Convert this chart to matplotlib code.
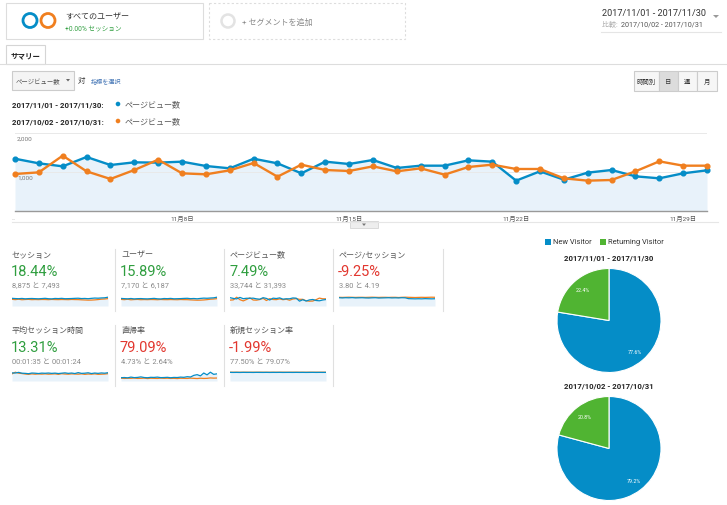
import matplotlib
matplotlib.use('Agg')
import matplotlib.pyplot as plt
import matplotlib.patches as mpatches
import numpy as np

plt.rcParams['font.family'] = ['Roboto', 'Noto Sans CJK JP', 'DejaVu Sans']

W, H = 727, 506

BLUE = '#058dc7'
ORANGE = '#f07f1f'
GREEN = '#50b432'
FILL = '#e8f2fa'
TXT_GREEN = '#2f9e3f'
TXT_RED = '#e2372f'

# daily pageviews, Nov (current) and Oct (comparison)
pv_cur = [1340, 1222, 1145, 1385, 1179, 1248, 1240, 1265, 1154, 1094,
          1340, 1222, 966, 1265, 1205, 1308, 1103, 1162, 1162, 1299,
          1265, 778, 1017, 803, 983, 1051, 889, 838, 966, 1043]
pv_prev = [949, 991, 1419, 1017, 821, 1051, 1316, 966, 940, 1043,
           1231, 880, 1188, 1051, 1026, 1145, 1017, 1094, 932, 1128,
           1188, 1077, 1077, 838, 778, 795, 1017, 1273, 1162, 1162]
day_ticks = [7, 14, 21, 28]
day_labels = ['11月8日', '11月15日', '11月22日', '11月29日']
y_grid = [1000, 2000]
y_grid_labels = ['1,000', '2,000']

# sparkline series (rough reads)
sess_cur = [300, 292, 286, 296, 282, 290, 294, 288, 283, 291,
            301, 286, 280, 296, 290, 300, 286, 289, 293, 300,
            305, 291, 296, 286, 300, 311, 306, 316, 322, 345]
sess_prev = [262, 250, 266, 246, 255, 260, 249, 254, 250, 256,
             254, 248, 258, 252, 250, 255, 252, 248, 257, 252,
             250, 242, 236, 230, 232, 240, 252, 268, 275, 290]
users_cur = [242, 236, 230, 240, 228, 235, 238, 232, 229, 236,
             244, 231, 226, 240, 235, 243, 231, 234, 237, 243,
             247, 235, 240, 231, 243, 252, 248, 256, 262, 282]
users_prev = [212, 203, 216, 199, 207, 211, 202, 206, 203, 208,
              206, 201, 209, 204, 203, 207, 204, 201, 208, 204,
              203, 196, 191, 186, 188, 194, 204, 218, 224, 236]
pps_cur = [4.0, 3.9, 4.0, 3.95, 4.05, 3.9, 3.95, 4.0, 3.9, 3.85,
           3.95, 4.0, 3.85, 3.9, 3.95, 4.0, 3.9, 3.95, 3.9, 4.0,
           3.95, 3.55, 3.5, 3.45, 3.5, 3.45, 3.55, 3.5, 3.45, 3.5]
pps_prev = [4.2, 4.15, 4.2, 4.25, 4.2, 4.15, 4.2, 4.2, 4.15, 4.2,
            4.25, 4.2, 4.15, 4.2, 4.2, 4.15, 4.2, 4.2, 4.1, 4.2,
            4.25, 4.2, 4.15, 4.1, 4.15, 4.2, 4.15, 4.2, 4.25, 4.2]
time_cur = [98, 96, 104, 94, 92, 88, 96, 94, 90, 95,
            93, 96, 92, 95, 90, 94, 98, 92, 96, 90,
            101, 92, 94, 99, 90, 96, 92, 97, 94, 100]
time_prev = [86, 106, 94, 90, 84, 80, 86, 82, 85, 83,
             86, 82, 84, 86, 80, 88, 84, 82, 86, 84,
             82, 86, 80, 84, 82, 86, 80, 82, 84, 88]
bounce_cur = [3.2, 3.4, 3.1, 3.8, 3.3, 3.5, 4.0, 3.4, 3.2, 3.6,
              3.5, 3.8, 3.3, 3.4, 3.6, 3.2, 3.5, 3.4, 3.8, 3.6,
              4.2, 3.9, 5.5, 6.2, 5.0, 7.8, 6.0, 8.6, 6.5, 7.0]
bounce_prev = [2.8, 2.5, 2.7, 2.6, 2.9, 2.5, 2.6, 2.8, 2.4, 2.7,
               2.6, 2.5, 2.8, 2.6, 2.7, 2.5, 2.6, 2.4, 2.7, 2.6,
               2.5, 2.8, 2.6, 2.4, 2.7, 2.5, 2.6, 3.0, 2.8, 2.9]
new_cur = [77.8, 77.2, 77.6, 77.0, 77.9, 77.4, 77.6, 77.1, 77.8, 77.5,
           77.3, 77.7, 77.2, 77.6, 77.4, 77.8, 77.2, 77.5, 77.6, 77.3,
           77.7, 77.4, 77.6, 77.2, 77.5, 77.8, 77.3, 77.6, 77.4, 77.5]
new_prev = [79.2, 79.0, 79.3, 78.9, 79.1, 79.2, 78.8, 79.1, 79.0, 79.3,
            79.0, 79.1, 78.9, 79.2, 79.0, 79.1, 79.2, 78.9, 79.0, 79.1,
            79.2, 79.0, 79.1, 78.9, 79.2, 79.0, 79.1, 79.0, 79.2, 79.1]

metric_names = ['セッション', 'ユーザー', 'ページビュー数', 'ページ/セッション',
                '平均セッション時間', '直帰率', '新規セッション率']
metric_change = ['18.44%', '15.89%', '7.49%', '-9.25%', '13.31%', '79.09%', '-1.99%']
metric_vals = ['8,875 と 7,493', '7,170 と 6,187', '33,744 と 31,393', '3.80 と 4.19',
               '00:01:35 と 00:01:24', '4.73% と 2.64%', '77.50% と 79.07%']
metric_good = [True, True, True, False, True, False, False]
spark_cur = [sess_cur, users_cur, pv_cur, pps_cur, time_cur, bounce_cur, new_cur]
spark_prev = [sess_prev, users_prev, pv_prev, pps_prev, time_prev, bounce_prev, new_prev]

pie_labels = ['New Visitor', 'Returning Visitor']
pie_cur = [77.6, 22.4]
pie_prev = [79.2, 20.8]
range_cur = '2017/11/01 - 2017/11/30'
range_prev = '2017/10/02 - 2017/10/31'


def px(x0, y0, w, h):
    return [x0 / W, 1 - (y0 + h) / H, w / W, h / H]


fig = plt.figure(figsize=(W / 100, H / 100), dpi=100)
bg = fig.add_axes([0, 0, 1, 1])
bg.set_xlim(0, W)
bg.set_ylim(H, 0)
bg.axis('off')

# segment boxes
bg.add_patch(mpatches.Rectangle((6, 4), 197, 36, fc='white', ec='#dddddd', lw=0.8))
bg.add_patch(mpatches.Rectangle((209, 4), 196, 36, fc='white', ec='#dddddd', lw=0.8, ls=(0, (2, 2))))
bg.add_patch(mpatches.Circle((30, 21.5), 7, fill=False, ec=BLUE, lw=2))
bg.add_patch(mpatches.Circle((48, 21.5), 7, fill=False, ec=ORANGE, lw=2))
bg.add_patch(mpatches.Circle((228, 22), 6.5, fill=False, ec='#e3e3e3', lw=1.8))
bg.text(65, 17, 'すべてのユーザー', fontsize=5.8, color='#333333', va='center')
bg.text(65, 30, '+0.00% セッション', fontsize=4.8, color=TXT_GREEN, va='center')
bg.text(242, 22, '+ セグメントを追加', fontsize=5.8, color='#888888', va='center')

# date range
bg.text(602, 13, range_cur, fontsize=6.6, color='#333333', va='center')
bg.text(602, 25, '比較: ', fontsize=5, color='#aaaaaa', va='center')
bg.text(621, 25, range_prev, fontsize=5.2, color='#555555', va='center')
bg.add_patch(mpatches.Polygon([(713, 16), (719, 16), (716, 19)], fc='#999999', ec='none'))
bg.plot([601, 721], [33, 33], color='#e5e5e5', lw=0.8)

# tab
bg.plot([0, W], [65, 65], color='#dddddd', lw=0.8)
bg.add_patch(mpatches.Rectangle((6, 46), 39, 19, fc='white', ec='#d5d5d5', lw=0.8))
bg.text(11, 56, 'サマリー', fontsize=5.4, color='#222222', fontweight='bold', va='center')

# metric selector
bg.add_patch(mpatches.Rectangle((12, 72), 62, 19, fc='#f4f4f4', ec='#cccccc', lw=0.8))
bg.text(16, 81.5, 'ページビュー数', fontsize=4.6, color='#555555', va='center')
bg.add_patch(mpatches.Polygon([(66, 80), (70, 80), (68, 82.5)], fc='#666666', ec='none'))
bg.text(78, 81, '対', fontsize=5.4, color='#333333', va='center')
bg.text(91, 81.5, '指標を選択', fontsize=4.4, color='#4a7ab8', va='center')

# granularity buttons
btn_x = [634, 659, 678, 697, 717]
btn_txt = ['時間別', '日', '週', '月']
for i in range(4):
    fc = '#dcdcdc' if i == 1 else '#f6f6f6'
    bg.add_patch(mpatches.Rectangle((btn_x[i], 72), btn_x[i + 1] - btn_x[i], 20,
                                    fc=fc, ec='#cccccc', lw=0.8))
    bg.text((btn_x[i] + btn_x[i + 1]) / 2, 82, btn_txt[i], fontsize=4.6,
            color='#333333', ha='center', va='center')

# main legend
for yy, lab, col in [(105, range_cur, BLUE), (122, range_prev, ORANGE)]:
    bg.text(12, yy, lab + ':', fontsize=5.6, fontweight='bold', color='#222222', va='center')
    bg.add_patch(mpatches.Circle((118, yy), 2.3, fc=col, ec='none'))
    bg.text(125, yy, 'ページビュー数', fontsize=5.8, color='#555555', va='center')

# main chart
ax = fig.add_axes(px(15, 134, 692, 78))
days = np.arange(len(pv_cur))
ax.fill_between(days, pv_cur, color=FILL, lw=0)
for v, lab in zip(y_grid, y_grid_labels):
    ax.axhline(v, color='#e9e9e9', lw=0.7, zorder=1)
    ax.text(0.08, v - 140, lab, fontsize=4.6, color='#777777', va='center', zorder=2)
ax.plot(days, pv_cur, color=BLUE, lw=1.7, marker='o', ms=3.4, clip_on=False, zorder=3)
ax.plot(days, pv_prev, color=ORANGE, lw=1.7, marker='o', ms=3.4, clip_on=False, zorder=4)
ax.set_xlim(0, len(pv_cur) - 1)
ax.set_ylim(0, 2000)
for s in ['top', 'left', 'right']:
    ax.spines[s].set_visible(False)
ax.spines['bottom'].set_color('#999999')
ax.spines['bottom'].set_linewidth(1.0)
ax.set_yticks([])
ax.set_xticks(day_ticks)
ax.set_xticklabels(day_labels)
ax.tick_params(axis='x', length=0, labelsize=4.6, labelcolor='#555555', pad=3)
ax.set_facecolor('none')
bg.text(12, 218, '...', fontsize=4, color='#aaaaaa', va='center')
bg.plot([12, 718], [223, 223], color='#e6e6e6', lw=0.8)
bg.add_patch(mpatches.Rectangle((350, 222), 28, 7, fc='#eeeeee', ec='#d5d5d5', lw=0.6))
bg.add_patch(mpatches.Polygon([(362, 224.5), (366, 224.5), (364, 227)], fc='#777777', ec='none'))

# metric cards
card_x = [12, 121, 230, 339, 12, 121, 230]
card_y = [255, 255, 255, 255, 330, 330, 330]
for i in range(len(metric_names)):
    x0, y0 = card_x[i], card_y[i]
    bg.text(x0, y0, metric_names[i], fontsize=5.8, color='#555555', va='center')
    bg.text(x0 - 1, y0 + 17.5, metric_change[i], fontsize=10.5,
            color=TXT_GREEN if metric_good[i] else TXT_RED, va='center')
    bg.text(x0, y0 + 32, metric_vals[i], fontsize=5.4, color='#888888', va='center')
    sa = fig.add_axes(px(x0, y0 + 41, 96, 11))
    cur, prev = spark_cur[i], spark_prev[i]
    xs = np.arange(len(cur))
    sa.fill_between(xs, cur, color=FILL, lw=0)
    sa.plot(xs, prev, color=ORANGE, lw=0.9)
    sa.plot(xs, cur, color=BLUE, lw=0.9)
    sa.set_xlim(0, len(cur) - 1)
    sa.set_ylim(0, max(max(cur), max(prev)) * 1.25)
    sa.axis('off')

for xx in [115, 224, 333, 443]:
    bg.plot([xx, xx], [250, 312], color='#e0e0e0', lw=0.8)
for xx in [115, 224, 333]:
    bg.plot([xx, xx], [326, 387], color='#e0e0e0', lw=0.8)

# pie legend
bg.add_patch(mpatches.Rectangle((545, 240), 5.5, 5.5, fc=BLUE, ec='none'))
bg.text(553, 243, pie_labels[0], fontsize=5.4, color='#333333', va='center')
bg.add_patch(mpatches.Rectangle((600, 240), 5.5, 5.5, fc=GREEN, ec='none'))
bg.text(608, 243, pie_labels[1], fontsize=5.4, color='#333333', va='center')

for cy, title, vals in [(321.5, range_cur, pie_cur), (449.5, range_prev, pie_prev)]:
    bg.text(609, cy - 63.5, title, fontsize=5.6, fontweight='bold', color='#222222',
            ha='center', va='center')
    pa = fig.add_axes(px(557, cy - 52, 104, 104))
    pa.pie(vals, colors=[BLUE, GREEN], startangle=90, counterclock=False,
           autopct='%.1f%%', pctdistance=0.78,
           wedgeprops=dict(edgecolor='white', linewidth=0.8),
           textprops=dict(color='white', fontsize=3.8))
    pa.set_xlim(-1, 1)
    pa.set_ylim(-1, 1)

fig.savefig('out.png', dpi=100)
